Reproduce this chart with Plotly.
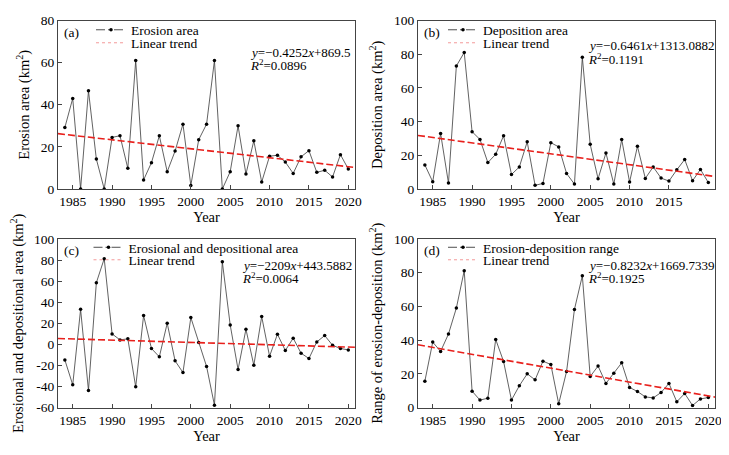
import plotly.graph_objects as go

years = list(range(1984, 2021))

erosion = [29.2, 43.0, 0.0, 46.6, 14.2, 0.0, 24.5, 25.3, 9.8, 61.0,
           4.3, 12.5, 25.3, 8.2, 18.0, 30.8, 1.7, 23.4, 30.8, 61.0,
           0.0, 8.2, 30.0, 7.1, 22.9, 3.3, 15.6, 16.0, 12.8, 7.4,
           15.3, 18.2, 7.9, 8.9, 5.7, 16.3, 9.5]

deposition = [14.3, 4.3, 33.0, 3.5, 73.0, 81.0, 34.0, 29.4, 15.7, 20.6,
              31.6, 8.6, 13.1, 28.0, 2.2, 3.3, 27.5, 25.0, 9.2, 2.9,
              78.2, 26.5, 6.1, 21.4, 2.9, 29.4, 4.1, 25.3, 6.3, 13.1,
              6.5, 4.7, 11.4, 17.5, 4.9, 11.6, 3.9]

net_area = [-14.8, -38.5, 33.2, -43.9, 58.5, 81.3, 9.9, 4.2, 5.2, -40.4,
            27.3, -4.0, -11.9, 20.0, -15.7, -26.8, 25.4, 1.7, -21.1, -57.8,
            78.3, 18.4, -23.9, 14.3, -19.9, 26.3, -11.3, 9.6, -5.9, 5.8,
            -8.4, -13.5, 2.3, 8.3, -0.9, -4.0, -5.3]

range_ed = [15.6, 38.8, 33.3, 43.6, 59.0, 81.2, 9.7, 4.4, 5.5, 40.4,
            27.3, 4.4, 12.9, 20.0, 16.4, 27.5, 25.5, 2.2, 21.4, 58.2,
            78.2, 18.4, 24.6, 14.3, 20.4, 26.5, 11.9, 9.5, 6.3, 5.7,
            8.9, 14.3, 3.4, 8.3, 1.2, 5.1, 5.9]

series_names = ["Erosion area", "Deposition area",
                "Erosional and depositional area", "Erosion-deposition range"]
trend_name = "Linear trend"
y_titles = ["Erosion area (km<sup>2</sup>)", "Deposition area (km<sup>2</sup>)",
            "Erosional and depositional area (km<sup>2</sup>)",
            "Range of erosion-deposition (km<sup>2</sup>)"]
panel_labels = ["(a)", "(b)", "(c)", "(d)"]
eq_texts = ["<i>y</i>=\u22120.4252<i>x</i>+869.5",
            "<i>y</i>=\u22120.6461<i>x</i>+1313.0882",
            "<i>y</i>=\u22122209<i>x</i>+443.5882",
            "<i>y</i>=\u22120.8232<i>x</i>+1669.7339"]
r2_texts = ["<i>R</i><sup>2</sup>=0.0896", "<i>R</i><sup>2</sup>=0.1191",
            "<i>R</i><sup>2</sup>=0.0064", "<i>R</i><sup>2</sup>=0.1925"]
trend_slope = [-0.4252, -0.6461, -0.2209, -0.8232]
trend_intercept = [869.5, 1313.0882, 443.5882, 1669.7339]

x_range = [1983.13, 2020.85]
y_ranges = [[0, 80], [0, 100], [-60, 100], [0, 100]]
x_tickvals = [[1985, 1990, 1995, 2000, 2005, 2010, 2015, 2020],
              [1985, 1990, 1995, 2000, 2005, 2010, 2015],
              [1985, 1990, 1995, 2000, 2005, 2010, 2015, 2020],
              [1985, 1990, 1995, 2000, 2005, 2010, 2015, 2020]]
y_tickvals = [[0, 20, 40, 60, 80], [0, 20, 40, 60, 80, 100],
              [-60, -40, -20, 0, 20, 40, 60, 80, 100], [0, 20, 40, 60, 80, 100]]

data = [erosion, deposition, net_area, range_ed]

# The page body has a default 8px margin, so the figure is drawn that much
# smaller and all window positions below are converted with this offset.
OFF = 8
W, H = 729 - OFF, 455 - OFF
FONT = "Liberation Serif, Times New Roman, serif"


def px(xw):
    return (xw - OFF) / W


def py(yw):
    return 1 - (yw - OFF) / H


# panel geometry in window pixels: (left, right, top, bottom)
boxes = [(58, 355, 20.5, 189), (418, 715, 20.5, 189),
         (58, 355, 239, 407.5), (418, 715, 239, 407.5)]
legend_text_left = [131, 483, 128.5, 483]
legend_rows = [(30, 43), (30, 43), (247.5, 260), (247.5, 260)]
eq_pos = [(248, 52), (586, 46), (240, 265.5), (586, 265)]

fig = go.Figure()
layout = dict(width=W, height=H, autosize=False, template="none",
              margin=dict(l=0, r=0, t=0, b=0, pad=0, autoexpand=False),
              paper_bgcolor="white", plot_bgcolor="white",
              font=dict(family=FONT, size=13, color="black"),
              showlegend=True, annotations=[])

for i in range(4):
    l, r, t, b = boxes[i]
    xs = "" if i == 0 else str(i + 1)
    xa, ya = "x" + xs, "y" + xs
    lg1 = "legend" if i == 0 else "legend" + str(2 * i + 1)
    lg2 = "legend" + str(2 * i + 2)

    # data series
    fig.add_trace(go.Scatter(
        x=years, y=data[i], mode="lines+markers", name=series_names[i],
        line=dict(color="#3a3a3a", width=0.8),
        marker=dict(color="black", size=3.5),
        xaxis=xa, yaxis=ya, showlegend=False))
    # linear trend from the fitted equation
    tx = x_range
    ty = [trend_slope[i] * v + trend_intercept[i] for v in tx]
    fig.add_trace(go.Scatter(
        x=tx, y=ty, mode="lines", name=trend_name,
        line=dict(color="#e8201c", width=1.6, dash="7px,3px"),
        xaxis=xa, yaxis=ya, showlegend=False))
    # legend-only entries (styled as in the original key)
    fig.add_trace(go.Scatter(
        x=[None], y=[None], mode="lines+markers", name=series_names[i],
        line=dict(color="#222", width=0.8, dash="dashdot"),
        marker=dict(color="black", size=3.5),
        xaxis=xa, yaxis=ya, legend=lg1))
    fig.add_trace(go.Scatter(
        x=[None], y=[None], mode="lines", name=trend_name,
        line=dict(color="#f08080", width=0.8, dash="dot"),
        xaxis=xa, yaxis=ya, legend=lg2))

    axstyle = dict(showline=True, linecolor="#444", linewidth=1, mirror=True,
                   ticks="inside", ticklen=4, tickcolor="#444", tickwidth=1,
                   showgrid=False, zeroline=False, automargin=False,
                   tickfont=dict(family=FONT, size=13.5, color="black"))
    layout["xaxis" + xs] = dict(
        domain=[px(l), px(r)], anchor=ya, range=x_range,
        tickvals=x_tickvals[i], ticktext=[str(v) for v in x_tickvals[i]],
        title=dict(text="Year", font=dict(family=FONT, size=14.5), standoff=1),
        **axstyle)
    layout["yaxis" + xs] = dict(
        domain=[py(b), py(t)], anchor=xa, range=y_ranges[i],
        tickvals=y_tickvals[i], ticktext=[str(v) for v in y_tickvals[i]],
        title=dict(text=y_titles[i], font=dict(family=FONT, size=14.5), standoff=7),
        **axstyle)

    for lg, yy in ((lg1, legend_rows[i][0]), (lg2, legend_rows[i][1])):
        layout[lg] = dict(x=px(legend_text_left[i] - 40), y=py(yy),
                          xanchor="left", yanchor="middle",
                          bgcolor="rgba(0,0,0,0)", borderwidth=0,
                          font=dict(family=FONT, size=13.5), itemwidth=30)

    layout["annotations"].append(dict(
        x=px(l + 4), y=py(t + 11.5), xref="paper", yref="paper",
        text=panel_labels[i], showarrow=False, xanchor="left", yanchor="middle",
        font=dict(family=FONT, size=13.5)))
    ex, ey = eq_pos[i]
    layout["annotations"].append(dict(
        x=px(ex), y=py(ey), xref="paper", yref="paper",
        text=eq_texts[i], showarrow=False, xanchor="left", yanchor="middle",
        font=dict(family=FONT, size=13)))
    layout["annotations"].append(dict(
        x=px(ex), y=py(ey + 12.5), xref="paper", yref="paper",
        text=r2_texts[i], showarrow=False, xanchor="left", yanchor="middle",
        font=dict(family=FONT, size=13)))

fig.update_layout(**layout)
fig.write_html("out.html")
